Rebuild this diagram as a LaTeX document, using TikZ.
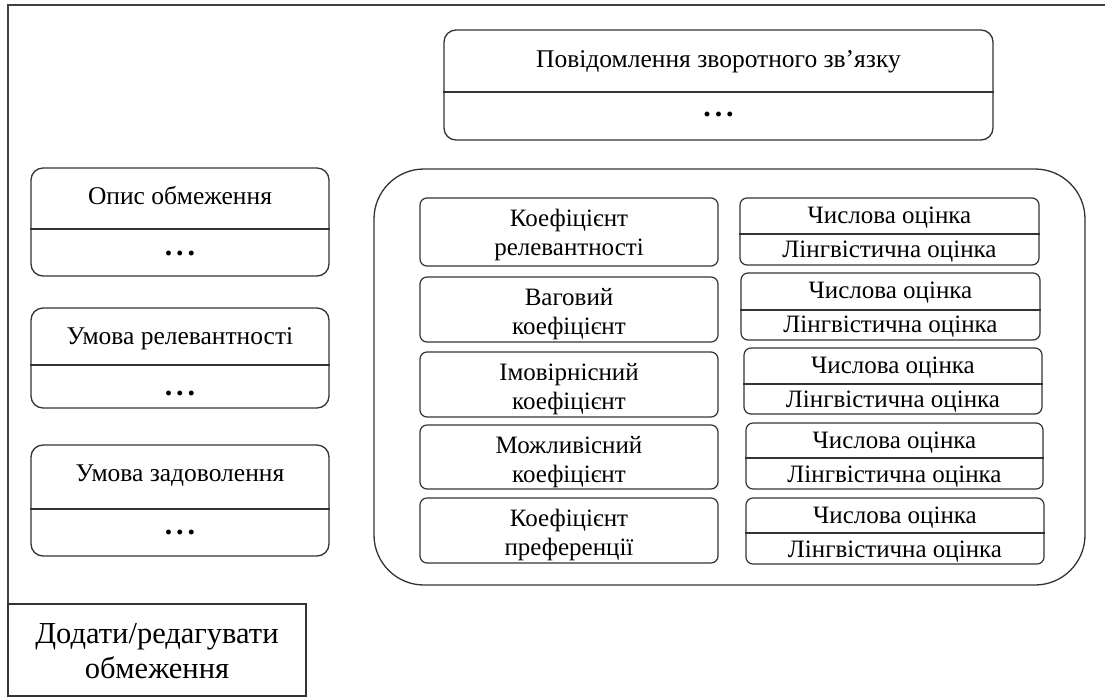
\documentclass[tikz,border=0pt]{standalone}
\usepackage{fontspec}
\setmainfont{Liberation Serif}
\begin{document}
\begin{tikzpicture}[x=1pt,y=-1pt,
  frame/.style={draw=black!75, line width=1.4pt},
  bigbox/.style={draw=black!80, line width=1.3pt, rounded corners=12pt, inner sep=0pt},
  smallbox/.style={draw=black!80, line width=1.2pt, rounded corners=7pt, inner sep=0pt},
  divline/.style={draw=black!80, line width=1.2pt},
  txt/.style={font=\fontsize{25.5}{28}\selectfont, inner sep=0pt, anchor=base},
  stxt/.style={font=\fontsize{25}{28}\selectfont, inner sep=0pt, anchor=base},
  dots/.style={font=\fontsize{30}{32}\selectfont\bfseries, inner sep=0pt},
  btntxt/.style={font=\fontsize{30.5}{33}\selectfont, inner sep=0pt, anchor=base},
  btn/.style={draw=black!80, line width=1.2pt, inner sep=0pt}
]
\useasboundingbox (0,0) rectangle (1105,697);
\fill[white] (0,0) rectangle (1105,697);
\draw[frame] (1105,5) -- (8,5) -- (8,697);
\newcommand{\mydots}{.\kern4pt.\kern4pt.}

% feedback box
\node[bigbox, minimum width=549pt, minimum height=110pt] (fb) at (718.5,85) {};
\draw[divline] (fb.west |- 0,92) -- (fb.east |- 0,92);
\node[txt] (fbt) at (718.5,67) {Повідомлення зворотного зв’язку};
\node[dots] (fbd) at (718.5,114) {\mydots};

% left boxes
\node[bigbox, minimum width=298pt, minimum height=108pt] (l1) at (180,222) {};
\draw[divline] (l1.west |- 0,229) -- (l1.east |- 0,229);
\node[txt] (l1t) at (180,204) {Опис обмеження};
\node[dots] (l1d) at (180,253) {\mydots};

\node[bigbox, minimum width=298pt, minimum height=100pt] (l2) at (180,358) {};
\draw[divline] (l2.west |- 0,365) -- (l2.east |- 0,365);
\node[txt] (l2t) at (180,344) {Умова релевантності};
\node[dots] (l2d) at (180,393) {\mydots};

\node[bigbox, minimum width=298pt, minimum height=111pt] (l3) at (180,500.5) {};
\draw[divline] (l3.west |- 0,509) -- (l3.east |- 0,509);
\node[txt] (l3t) at (180,481) {Умова задоволення};
\node[dots] (l3d) at (180,532) {\mydots};

% container
\node[draw=black!80, line width=1.3pt, rounded corners=50pt, minimum width=711pt, minimum height=416pt, inner sep=0pt] (cont) at (729.5,377) {};

% coefficient boxes
\foreach \n/\top/\h/\la/\lb in {1/198/68/Коефіцієнт/релевантності, 2/277/65/Ваговий/коефіцієнт, 3/352/65/Імовірнісний/коефіцієнт, 4/425/64/Можливісний/коефіцієнт, 5/498/65/Коефіцієнт/преференції}{
  \node[smallbox, minimum width=298pt, minimum height=\h pt] (c\n) at (569,{\top+\h/2}) {};
  \node[stxt] (c\n a) at (569,{\top+28}) {\la};
  \node[stxt] (c\n b) at (569,{\top+57}) {\lb};
}

% evaluation boxes
\foreach \n/\cx/\w/\top/\h/\dv in {1/889.5/299/198/67/234, 2/890.5/299/273/67/310, 3/893/298/348/66/384, 4/894.5/297/423/66/458, 5/895/298/498/66/533}{
  \node[smallbox, minimum width=\w pt, minimum height=\h pt] (e\n) at (\cx,{\top+\h/2}) {};
  \draw[divline] (e\n.west |- 0,\dv) -- (e\n.east |- 0,\dv);
  \node[stxt] (e\n a) at (\cx,{\top+25}) {Числова оцінка};
  \node[stxt] (e\n b) at (\cx,{\top+59}) {Лінгвістична оцінка};
}

% button
\node[btn, minimum width=298pt, minimum height=92pt] (btn) at (157,650) {};
\node[btntxt] (btna) at (157,643) {Додати/редагувати};
\node[btntxt] (btnb) at (157,678) {обмеження};
\end{tikzpicture}
\end{document}
